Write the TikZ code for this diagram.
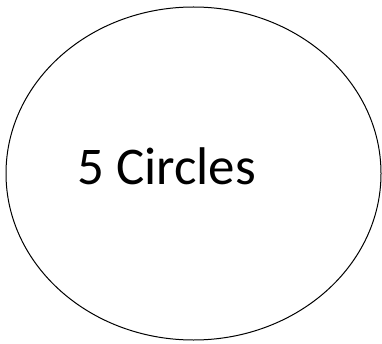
\documentclass[tikz,border=0pt]{standalone}
\usepackage{fontspec}
\setmainfont{Carlito}
\begin{document}
\begin{tikzpicture}[x=1pt,y=1pt,
  shapeline/.style={draw=black,line width=1pt},
  labeltext/.style={font=\fontsize{53}{60}\selectfont,inner sep=0pt,anchor=base west}]
\useasboundingbox (0,0) rectangle (382,343);
\draw[shapeline] (193.5,169.5) ellipse [x radius=187.5,y radius=166.5];
\node[labeltext] (lbl) at (77,159) {5 Circles};
\end{tikzpicture}
\end{document}
